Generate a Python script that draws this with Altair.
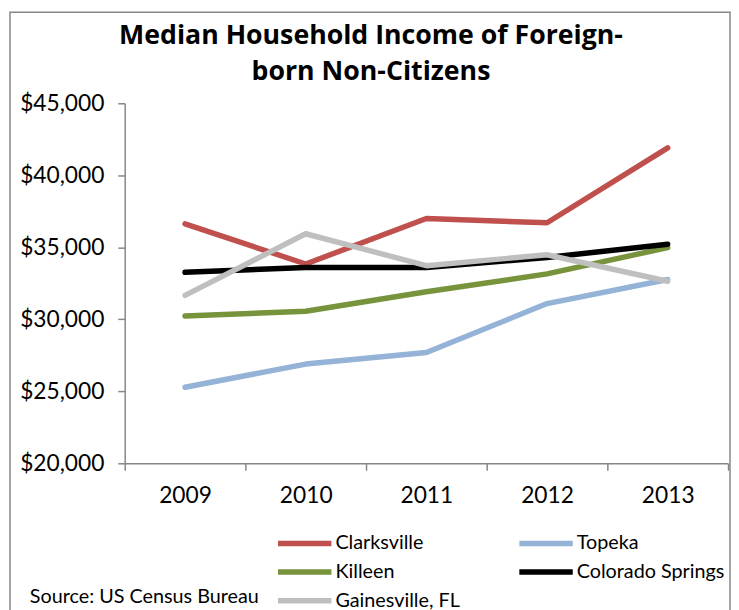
import altair as alt
import pandas as pd

years = ["2009", "2010", "2011", "2012", "2013"]
series_names = ["Clarksville", "Topeka", "Killeen", "Colorado Springs", "Gainesville, FL"]
clarksville = [36630, 33840, 37000, 36700, 41900]
topeka = [25280, 26890, 27690, 31090, 32760]
killeen = [30230, 30560, 31910, 33150, 34980]
colorado_springs = [33260, 33600, 33600, 34290, 35210]
gainesville = [31660, 35940, 33720, 34480, 32640]
colors = ["#C0504D", "#95B3D7", "#77933C", "#000000", "#BFBFBF"]
title_text = "Median Household Income of Foreign-\nborn Non-Citizens"
source_text = "Source: US Census Bureau"

values = [clarksville, topeka, killeen, colorado_springs, gainesville]
rows = []
for name, vals in zip(series_names, values):
    for yr, v in zip(years, vals):
        rows.append({"Year": yr, "Income": v, "Series": name})
df = pd.DataFrame(rows)

FONT = "Lato"
W, H = 610, 364

lines = alt.Chart(df).mark_line(strokeWidth=5.5, strokeCap="round", strokeJoin="round").encode(
    x=alt.X("Year:N", sort=years, scale=alt.Scale(paddingInner=0, paddingOuter=0),
            axis=alt.Axis(title=None, labelAngle=0, tickBand="extent", labelFontSize=23,
                          labelPadding=15, tickSize=7, grid=False)),
    y=alt.Y("Income:Q", scale=alt.Scale(domain=[20000, 45000], nice=False, zero=False),
            axis=alt.Axis(title=None, format="$,.0f", values=[20000, 25000, 30000, 35000, 40000, 45000],
                          labelFontSize=23, labelPadding=14, tickSize=7, grid=False)),
    color=alt.Color("Series:N", sort=series_names,
                    scale=alt.Scale(domain=series_names, range=colors),
                    legend=alt.Legend(title=None, orient="none", legendX=152, legendY=434,
                                      direction="horizontal", clipHeight=22,
                                      columns=2, columnPadding=57, rowPadding=7,
                                      symbolType="stroke", symbolSize=2916, symbolStrokeWidth=5.5,
                                      labelFontSize=20, labelOffset=1, labelFont=FONT,
                                      labelColor="#000000", labelLimit=300)),
)

title = alt.Chart(pd.DataFrame({"t": [title_text]})).mark_text(
    align="center", baseline="alphabetic", fontSize=27, fontWeight="bold", font="Open Sans",
    color="#000000", lineBreak="\n", lineHeight=36
).encode(x=alt.value(249), y=alt.value(-60), text="t:N")

source = alt.Chart(pd.DataFrame({"t": [source_text]})).mark_text(
    align="left", baseline="middle", fontSize=20, font=FONT, color="#000000"
).encode(x=alt.value(-96), y=alt.value(499), text="t:N")

border = alt.Chart(pd.DataFrame({"a": [0]})).mark_rect(
    filled=False, stroke="#868686", strokeWidth=1.5
).encode(x=alt.value(-116), x2=alt.value(612), y=alt.value(-92), y2=alt.value(540))

chart = alt.layer(border, lines, title, source).properties(
    width=W, height=H,
    autosize=alt.AutoSizeParams(type="none"),
    padding={"left": 118, "top": 93, "right": 3, "bottom": 145},
).configure_view(stroke=None).configure_axis(
    labelFont=FONT, labelColor="#000000", domainColor="#868686", tickColor="#868686",
    domainWidth=1.5, tickWidth=1.5
)

chart.save("out.html", embed_options={"renderer": "svg", "actions": False})
